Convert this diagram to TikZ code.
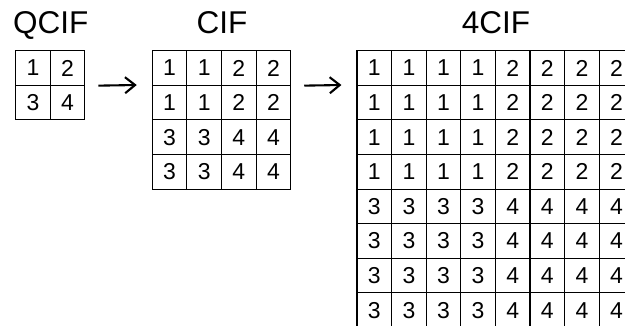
\documentclass[tikz,border=0pt]{standalone}
\usepackage{fontspec}
\setmainfont{Liberation Sans}
\usetikzlibrary{arrows.meta,positioning}
\tikzset{
  cell/.style={
    draw,
    line width=1.1pt,
    minimum size=34.6pt,
    inner sep=0pt,
    font=\fontsize{23}{23}\selectfont
  },
  title/.style={
    anchor=base,
    font=\fontsize{31.5}{31.5}\selectfont
  },
  upscale/.style={
    line width=2.1pt,
    -{Straight Barb[length=10pt,width=16pt]},
    shorten <=13pt,
    shorten >=15pt
  },
}

\begin{document}
\begin{tikzpicture}[x=1pt,y=-1pt]
  \clip (0,0) rectangle (625,325);
  % QCIF, 2x2
  \foreach \r in {1,2}{
    \foreach \c in {1,2}{
      \pgfmathtruncatemacro{\v}{2*(\r-1)+\c}
      \node[cell] (q\r\c) at (15.7+34.6*\c-17.3,50.7+34.6*\r-17.3) {\v};
  }}
  % CIF, every pixel doubled
  \foreach \r in {1,...,4}{
    \foreach \c in {1,...,4}{
      \pgfmathtruncatemacro{\v}{2*int((\r-1)/2)+int((\c-1)/2)+1}
      \node[cell] (c\r\c) at (152.3+34.6*\c-17.3,50.7+34.6*\r-17.3) {\v};
  }}
  % 4CIF, doubled again
  \foreach \r in {1,...,8}{
    \foreach \c in {1,...,8}{
      \pgfmathtruncatemacro{\v}{2*int((\r-1)/4)+int((\c-1)/4)+1}
      \node[cell] (f\r\c) at (357+34.6*\c-17.3,50.7+34.6*\r-17.3) {\v};
  }}
  \node[title] (tq) at ([yshift=16.4pt]q11.north east) {QCIF};
  \node[title] (tc) at ([yshift=16.4pt]c12.north east) {CIF};
  \node[title] (tf) at ([yshift=16.4pt]f14.north east) {4CIF};
  \draw[upscale] (q12.south east) -- (c21.north west);
  \draw[upscale] (c14.south east) -- (f21.north west);
\end{tikzpicture}
\end{document}
